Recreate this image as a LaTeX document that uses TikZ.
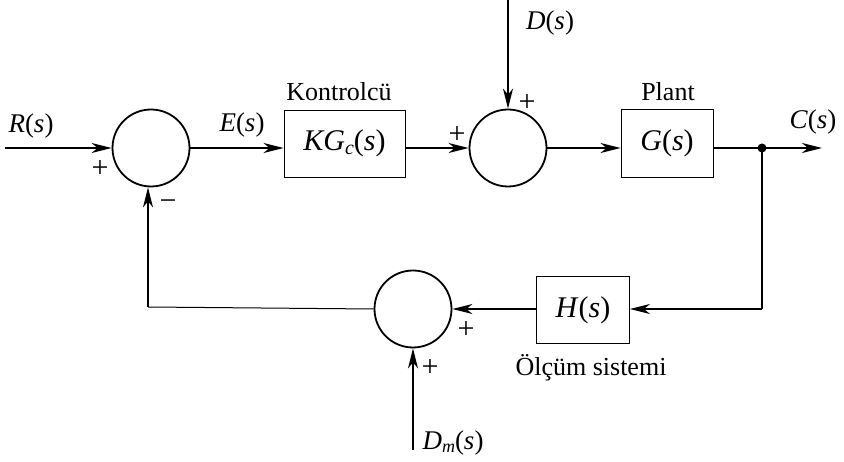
\documentclass[tikz,border=0pt]{standalone}
\usepackage{fontspec}
\setmainfont{Liberation Serif}
\usetikzlibrary{arrows.meta}
\begin{document}
\begin{tikzpicture}[x=1pt,y=-1pt,
  font=\fontsize{27}{29}\selectfont,
  sumc/.style={circle,draw,line width=1.8pt,minimum size=77pt,inner sep=0pt},
  blk/.style={rectangle,draw,line width=0.9pt,inner sep=0pt,font=\fontsize{30}{32}\selectfont},
  sig/.style={line width=2pt},
  arr/.style={line width=2pt,-{Stealth[length=20pt,width=10pt,inset=6pt]}},
  thin/.style={line width=1pt},
  lbl/.style={inner sep=0pt},
  txt/.style={inner sep=0pt,font=\fontsize{26}{28}\selectfont},
  sgn/.style={inner sep=0pt,font=\fontsize{30}{32}\selectfont}]
\useasboundingbox (0,0) rectangle (844,462);
% summing junctions
\node[sumc] (s1) at (151,148) {};
\node[sumc] (s2) at (508,148) {};
\node[sumc] (s3) at (413,309) {};
% blocks
\node[blk,minimum width=121pt,minimum height=67pt] (kg) at (344.5,143.5) {\textit{KG}\raisebox{-0.25ex}{\fontsize{20}{20}\selectfont\textit{c}}(\textit{s})};
\node[blk,minimum width=92pt,minimum height=68pt] (g) at (667,143) {\textit{G}(\textit{s})};
\node[blk,minimum width=93pt,minimum height=67pt] (h) at (583,310) {\textit{H}(\textit{s})};
% coordinates
\coordinate (rin) at (5,148);
\coordinate (din) at (508,0);
\coordinate (cout) at (822,148);
\coordinate (tap) at (762,148);
\coordinate (corner) at (762,309);
\coordinate (dmin) at (413,450);
\coordinate (lc) at (148,307);
% connectors
\draw[arr] (rin) -- (s1.west);
\draw[arr] (s1.east) -- (s1.east -| kg.west);
\draw[arr] (s1.east -| kg.east) -- (s2.west);
\draw[arr] (din) -- (s2.north);
\draw[arr] (s2.east) -- (s2.east -| g.west);
\draw[arr] (s2.east -| g.east) -- (cout);
\fill (tap) circle (4.5pt);
\draw[sig] (tap) -- (corner);
\draw[arr] (corner) -- (corner -| h.east);
\draw[arr] (corner -| h.west) -- (s3.east);
\draw[arr] (dmin) -- (s3.south);
\draw[thin] (s3.west) -- (lc);
\draw[arr] (lc) -- (lc |- s1.south);
% labels
\node[lbl] (lr) at (31,126) {\textit{R}(\textit{s})};
\node[lbl] (le) at (242,125) {\textit{E}(\textit{s})};
\node[txt] (lk) at (339,92) {Kontrolcü};
\node[txt] (lp) at (668,92) {Plant};
\node[lbl] (ld) at (550,23) {\textit{D}(\textit{s})};
\node[lbl] (lcs) at (813,122) {\textit{C}(\textit{s})};
\node[txt] (lo) at (591,368) {Ölçüm sistemi};
\node[lbl] (ldm) at (453,443) {\textit{D}\raisebox{-0.25ex}{\fontsize{18}{18}\selectfont\textit{m}}(\textit{s})};
% signs
\node[sgn] (p1) at (100,169) {+};
\node[sgn] (m1) at (168,205) {\textminus};
\node[sgn] (p2) at (457,135) {+};
\node[sgn] (p3) at (527,103) {+};
\node[sgn] (p4) at (466,330) {+};
\node[sgn] (p5) at (430,368) {+};
\end{tikzpicture}
\end{document}
